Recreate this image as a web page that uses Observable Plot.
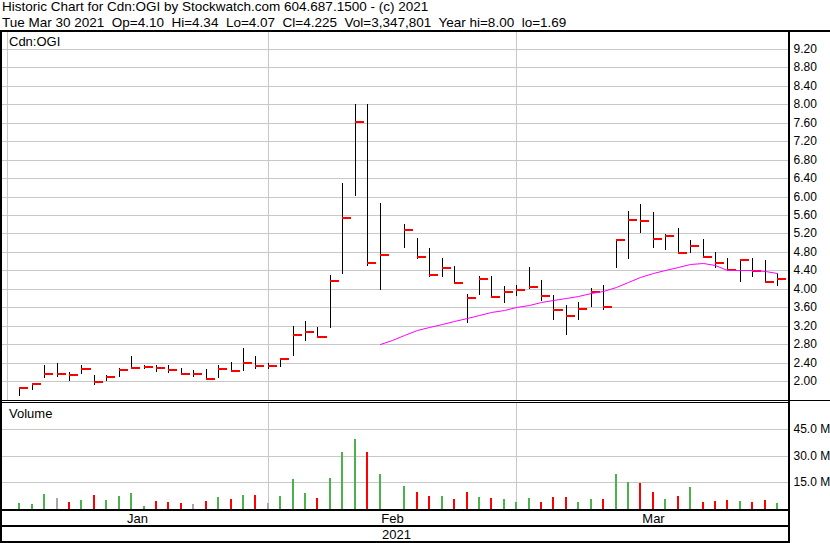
<!DOCTYPE html>
<html><head><meta charset="utf-8">
<script src="https://cdn.jsdelivr.net/npm/d3@7"></script>
<script src="https://cdn.jsdelivr.net/npm/@observablehq/plot@0.6"></script>
<style>
body{margin:0;background:#fff;}
#wrap{position:relative;width:830px;height:543px;overflow:hidden;background:#fff;font-family:"Liberation Sans",Arial,sans-serif;color:#000;}
.hd{position:absolute;left:2px;font-size:13.5px;white-space:pre;line-height:16px;}
.bk{position:absolute;background:#000;z-index:5;}
.lbl{position:absolute;font-size:13px;line-height:13px;white-space:pre;}
.chart{position:absolute;left:0;}
</style></head><body>
<div id="wrap">
  <div class="hd" id="h1" style="top:-1px"></div>
  <div class="hd" id="h2" style="top:15px"></div>
  <div class="chart" id="price" style="top:32px"></div>
  <div class="chart" id="vol" style="top:403px"></div>
  <div class="lbl" id="symLbl" style="left:9px;top:35px"></div>
  <div class="lbl" id="volLbl" style="left:9px;top:407px"></div>
  <div class="bk" style="left:0;top:30px;width:830px;height:2px"></div>
  <div class="bk" style="left:0;top:30px;width:2px;height:513px"></div>
  <div class="bk" style="left:788px;top:30px;width:2px;height:513px"></div>
  <div class="bk" style="left:0;top:400px;width:830px;height:1px"></div>
  <div class="bk" style="left:0;top:402px;width:790px;height:1px"></div>
  <div class="bk" style="left:0;top:509px;width:790px;height:2px"></div>
  <div class="bk" style="left:0;top:525px;width:790px;height:2px"></div>
  <div class="bk" style="left:0;top:541px;width:790px;height:2px"></div>
</div>
<script>
// ---- text ----
const titleLine = "Historic Chart for Cdn:OGI by Stockwatch.com 604.687.1500 - (c) 2021";
const infoLine = "Tue Mar 30 2021  Op=4.10  Hi=4.34  Lo=4.07  Cl=4.225  Vol=3,347,801  Year hi=8.00  lo=1.69";
const symbolLabel = "Cdn:OGI";
const volumeLabel = "Volume";
const yearLabel = "2021";

// ---- data ----
const dates = [
  "2021-01-04","2021-01-05","2021-01-06","2021-01-07","2021-01-08",
  "2021-01-11","2021-01-12","2021-01-13","2021-01-14","2021-01-15",
  "2021-01-18","2021-01-19","2021-01-20","2021-01-21","2021-01-22",
  "2021-01-25","2021-01-26","2021-01-27","2021-01-28","2021-01-29",
  "2021-02-01","2021-02-02","2021-02-03","2021-02-04","2021-02-05",
  "2021-02-08","2021-02-09","2021-02-10","2021-02-11","2021-02-12",
  "2021-02-16","2021-02-17","2021-02-18","2021-02-19",
  "2021-02-22","2021-02-23","2021-02-24","2021-02-25","2021-02-26",
  "2021-03-01","2021-03-02","2021-03-03","2021-03-04","2021-03-05",
  "2021-03-08","2021-03-09","2021-03-10","2021-03-11","2021-03-12",
  "2021-03-15","2021-03-16","2021-03-17","2021-03-18","2021-03-19",
  "2021-03-22","2021-03-23","2021-03-24","2021-03-25","2021-03-26",
  "2021-03-29","2021-03-30"
];
const highs = [
  1.87,1.97,2.36,2.40,2.20, 2.36,2.14,2.13,2.29,2.55, 2.35,2.36,2.36,2.28,2.24, 2.26,2.35,2.42,2.72,2.55,
  2.39,2.51,3.19,3.31,3.18, 4.30,6.29,8.00,8.00,5.86, 5.40,5.10,4.89,4.67, 4.50,3.89,4.29,4.29,4.06,
  4.08,4.47,4.19,3.87,3.65, 3.71,4.03,4.08,5.08,5.69, 5.84,5.66,5.19,5.32,5.06, 5.08,4.80,4.67,4.65,4.67, 4.62,4.34
];
const lows = [
  1.69,1.81,2.08,2.10,2.01, 2.16,1.93,2.00,2.10,2.26, 2.26,2.20,2.17,2.14,2.10, 2.03,2.08,2.21,2.23,2.27,
  2.26,2.30,2.55,2.88,2.94, 3.16,4.33,6.02,4.50,3.98, 4.89,4.65,4.26,4.26, 4.12,3.27,3.86,3.80,3.70,
  3.85,3.99,3.74,3.33,3.01, 3.33,3.61,3.55,4.46,4.65, 5.20,4.89,4.84,4.77,4.77, 4.68,4.46,4.39,4.16,4.26, 4.15,4.07
];
const closes = [
  1.86,1.95,2.16,2.16,2.14, 2.27,1.98,2.10,2.24,2.29, 2.32,2.29,2.24,2.165,2.165, 2.06,2.27,2.23,2.40,2.34,
  2.34,2.49,3.00,3.07,2.96, 4.17,5.54,7.61,4.55,4.74, 5.27,4.70,4.30,4.45, 4.13,3.81,4.22,3.82,3.93,
  3.98,4.05,3.85,3.55,3.42, 3.57,3.93,3.61,5.06,5.50, 5.48,5.09,5.15,4.78,4.93, 4.70,4.57,4.40,4.62,4.39, 4.15,4.225
];
const volumes = [ // millions
  3.2,2.6,8.3,6.0,3.8, 4.9,7.7,4.9,7.1,8.8, 1.5,4.3,3.8,3.2,2.6, 4.3,6.6,5.4,7.7,7.7,
  3.2,7.1,16.7,8.8,6.0, 17.2,31.9,39.2,31.9,19.5, 12.8,9.4,7.1,7.1, 5.4,9.4,6.6,6.0,5.4,
  3.8,6.0,3.8,6.6,6.6, 3.8,5.4,5.4,19.5,15.0, 14.4,9.4,5.4,7.1,12.2, 3.8,4.3,4.9,4.3,3.8, 4.9,3.35
];
// 30-day moving average, one value per weekday slot starting 2021-02-12
const maStart = "2021-02-12";
const maValues = [
  2.80,2.90,3.01,3.10,3.17,3.24,3.31,3.37,3.44,3.49,3.54,
  3.60,3.66,3.71,3.76,3.80,3.85,3.91,3.95,4.04,4.15,4.25,
  4.34,4.41,4.47,4.53,4.55,4.52,4.41,4.41,4.40,4.38,4.35
];
const priceTicks = [2.00,2.40,2.80,3.20,3.60,4.00,4.40,4.80,5.20,5.60,6.00,6.40,6.80,7.20,7.60,8.00,8.40,8.80,9.20];
const volumeTicks = [15,30,45];
const monthStarts = ["2021-01-01","2021-02-01","2021-03-01"];
const monthLabels = ["Jan","Feb","Mar"];

// ---- helpers ----
const firstDay = Date.UTC(2021,0,1);
function slotOf(s){ // weekday slot number counted from 2021-01-01
  const t1 = Date.parse(s+"T00:00:00Z"); let n = 0;
  for (let t = firstDay; t < t1; t += 864e5){ const wd = new Date(t).getUTCDay(); if (wd !== 0 && wd !== 6) n++; }
  return n;
}
const xDomain = [-0.4, 62.96];
const tickLen = 0.725; // close tick length in slot units
const UP = "#4cb34c", DOWN = "#ff0000", FLAT = "#a8a8a8";

const rows = dates.map((d,k) => ({
  i: slotOf(d), high: highs[k], low: lows[k], close: closes[k], vol: volumes[k],
  col: k === 0 ? UP : closes[k] > closes[k-1] ? UP : closes[k] < closes[k-1] ? DOWN : FLAT
}));
const ma0 = slotOf(maStart);
const maRows = maValues.map((v,k) => ({i: ma0 + k, v}));
const monthIdx = monthStarts.map(slotOf);
const monthRows = monthLabels.map((lab,k) => ({
  label: lab,
  mid: (Math.max(monthIdx[k], xDomain[0]) + Math.min(k+1 < monthIdx.length ? monthIdx[k+1] : Infinity, xDomain[1])) / 2
}));

document.getElementById("h1").textContent = titleLine;
document.getElementById("h2").textContent = infoLine;
document.getElementById("symLbl").textContent = symbolLabel;
document.getElementById("volLbl").textContent = volumeLabel;

const font = '"Liberation Sans", Arial, sans-serif';
const grid = "#c8c8c8";

const price = Plot.plot({
  width: 830, height: 368,
  marginLeft: 2, marginRight: 41, marginTop: 0, marginBottom: 0,
  x: {domain: xDomain, round: true, axis: null},
  y: {domain: [1.595, 9.561], round: true, label: null},
  color: {type: "identity"},
  style: {background: "transparent", fontFamily: font, fontSize: "12px", color: "#000", overflow: "visible"},
  marks: [
    Plot.ruleY(priceTicks, {stroke: grid}),
    Plot.ruleX(monthIdx, {stroke: grid}),
    Plot.axisY({anchor: "right", ticks: priceTicks, tickFormat: d => d.toFixed(2), tickSize: 0, tickPadding: 4, label: null, fontSize: 12}),
    Plot.ruleX(rows, {x: "i", y1: "low", y2: "high", stroke: "#000", strokeWidth: 1}),
    Plot.ruleY(rows, {y: "close", x1: "i", x2: d => d.i + tickLen, stroke: DOWN, strokeWidth: 2, dy: -0.5}),
    Plot.line(maRows, {x: "i", y: "v", stroke: "#ff00ff", strokeWidth: 1})
  ]
});
document.getElementById("price").appendChild(price);

const vol = Plot.plot({
  width: 830, height: 140,
  marginLeft: 2, marginRight: 41, marginTop: 0, marginBottom: 34,
  x: {domain: xDomain, round: true, axis: null},
  y: {domain: [0, 59.55], round: true, label: null},
  color: {type: "identity"},
  style: {background: "transparent", fontFamily: font, fontSize: "12px", color: "#000", overflow: "visible"},
  marks: [
    Plot.ruleY(volumeTicks, {stroke: grid}),
    Plot.ruleX(monthIdx.slice(1), {stroke: grid}),
    Plot.axisY({anchor: "right", ticks: volumeTicks, tickFormat: d => d.toFixed(1) + " M", tickSize: 0, tickPadding: 4, label: null, fontSize: 12}),
    Plot.ruleX(rows, {x: "i", y1: 0, y2: "vol", stroke: "col", strokeWidth: 2, dx: -0.5}),
    Plot.text(monthRows, {x: "mid", text: "label", frameAnchor: "bottom", lineAnchor: "middle", dy: 9.5, fontSize: 13, fill: "#000"}),
    Plot.text([yearLabel], {x: () => (xDomain[0] + xDomain[1]) / 2, text: d => d, frameAnchor: "bottom", lineAnchor: "middle", dy: 25.5, fontSize: 13, fill: "#000"})
  ]
});
document.getElementById("vol").appendChild(vol);
</script>
</body></html>
